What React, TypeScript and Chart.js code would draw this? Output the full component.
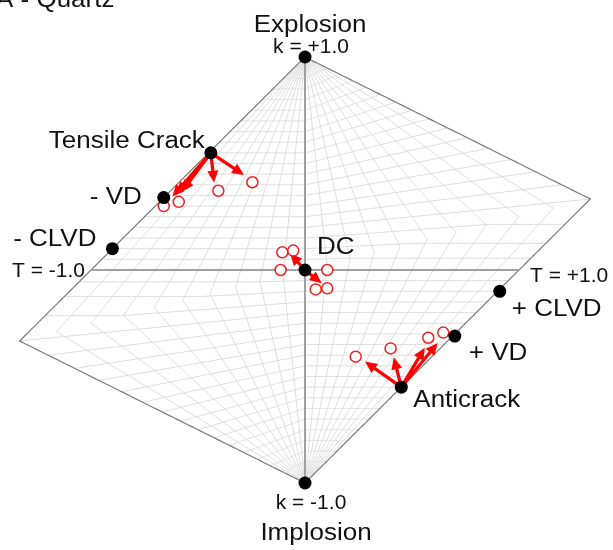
import React, { useEffect, useRef } from 'react';
import { Chart, registerables } from 'chart.js';

Chart.register(...registerables);

// Reference source types (Hudson u-v plot coordinates)
const refLabels = ['Explosion', 'Implosion', 'Tensile Crack', '- VD', '- CLVD', 'DC', '+ CLVD', '+ VD', 'Anticrack'];
const refU = [0, 0, -0.44, -0.66, -0.9, 0, 0.91, 0.7, 0.45];
const refV = [1, -1, 0.55, 0.34, 0.1, 0, -0.1, -0.31, -0.55];

// Observed (inverted) source types, red open circles
const obsU = [-0.66, -0.59, -0.405, -0.246, -0.106, -0.055, -0.114, 0.104, 0.05, 0.104, 0.237, 0.4, 0.576, 0.646];
const obsV = [0.3, 0.32, 0.372, 0.412, 0.083, 0.091, 0.0, 0.0, -0.091, -0.086, -0.407, -0.368, -0.318, -0.294];

// Arrows: from a reference source (index in refLabels) to a tip
const arrowSource = [2, 2, 2, 2, 2, 5, 5, 8, 8, 8, 8];
const arrowTipU = [-0.62, -0.6, -0.575, -0.425, -0.285, -0.07, 0.078, 0.28, 0.415, 0.56, 0.62];
const arrowTipV = [0.345, 0.357, 0.368, 0.41, 0.446, 0.078, -0.062, -0.43, -0.41, -0.365, -0.343];

// Axis end labels
const axisLabels = ['k = +1.0', 'k = -1.0', 'T = -1.0', 'T = +1.0'];
const axisU = [0, 0, -1, 1];
const axisV = [1, -1, 0, 0];

const titleText = 'A - Quartz';

// grid values (T and k)
const gridTStep = 0.1;
const gridKStep = 0.05;

function hudson(T: number, k: number): [number, number] {
  const tau = T * (1 - Math.abs(k));
  if ((tau >= 0 && k <= 0) || (tau <= 0 && k >= 0)) return [tau, k];
  if (tau > 0 && k > 0) {
    if (tau < 4 * k) {
      const d = 1 - tau / 2;
      return [tau / d, k / d];
    }
    const d = 1 - 2 * k;
    return [tau / d, k / d];
  }
  if (tau > 4 * k) {
    const d = 1 + tau / 2;
    return [tau / d, k / d];
  }
  const d = 1 + 2 * k;
  return [tau / d, k / d];
}

const FONT = '"Liberation Sans", Arial, sans-serif';

// label layout: [text, anchorU, anchorV, dx, dy, align, size, scaleX]
const labelLayout: Array<[string, number, number, number, number, CanvasTextAlign, number, number]> = [
  [refLabels[0], refU[0], refV[0], 5, -25, 'center', 23, 1.13],
  [refLabels[1], refU[1], refV[1], 11, 57, 'center', 23, 1.13],
  [refLabels[2], refU[2], refV[2], -6, -4.5, 'right', 23, 1.13],
  [refLabels[3], refU[3], refV[3], -22, 6, 'right', 23, 1.13],
  [refLabels[4], refU[4], refV[4], -16, -3, 'right', 23, 1.13],
  [refLabels[5], refU[5], refV[5], 12, -16, 'left', 23, 1.13],
  [refLabels[6], refU[6], refV[6], 12, 25, 'left', 23, 1.13],
  [refLabels[7], refU[7], refV[7], 14, 24, 'left', 23, 1.13],
  [refLabels[8], refU[8], refV[8], 12, 20, 'left', 23, 1.13],
  [axisLabels[0], axisU[0], axisV[0], 6, -4, 'center', 20, 1.05],
  [axisLabels[1], axisU[1], axisV[1], 6, 26, 'center', 20, 1.05],
  [axisLabels[2], axisU[2], axisV[2], -6, 7, 'right', 20, 1.05],
  [axisLabels[3], axisU[3], axisV[3], 11, 12, 'left', 20, 1.05],
];

const hudsonPlugin = {
  id: 'hudsonGrid',
  beforeDatasetsDraw(chart: any) {
    const { ctx, scales } = chart;
    const xs = scales.x;
    const ys = scales.y;
    const px = (u: number) => xs.getPixelForValue(u);
    const py = (v: number) => ys.getPixelForValue(v);

    const drawPoly = (pts: Array<[number, number]>) => {
      ctx.beginPath();
      pts.forEach(([u, v], i) => {
        if (i === 0) ctx.moveTo(px(u), py(v));
        else ctx.lineTo(px(u), py(v));
      });
      ctx.stroke();
    };

    const kLine = (k: number) => {
      const ts: number[] = [];
      for (let i = 0; i <= 200; i++) ts.push(-1 + (2 * i) / 200);
      if (k > 0) {
        const t = (4 * k) / (1 - k);
        if (t < 1) ts.push(t);
      } else if (k < 0) {
        const t = (4 * k) / (1 + k);
        if (t > -1) ts.push(t);
      }
      ts.sort((a, b) => a - b);
      return ts.map((t) => hudson(t, k));
    };
    const tLine = (T: number) => {
      const ks: number[] = [];
      for (let i = 0; i <= 200; i++) ks.push(-1 + (2 * i) / 200);
      if (T > 0) ks.push(T / (4 + T));
      else if (T < 0) ks.push(T / (4 - T));
      ks.sort((a, b) => a - b);
      return ks.map((k) => hudson(T, k));
    };

    ctx.save();
    ctx.lineJoin = 'miter';
    // light grid
    ctx.strokeStyle = '#dcdcdc';
    ctx.lineWidth = 1;
    const nK = Math.round(1 / gridKStep);
    for (let i = -nK + 1; i <= nK - 1; i++) {
      if (i === 0) continue;
      drawPoly(kLine(i * gridKStep));
    }
    const nT = Math.round(1 / gridTStep);
    for (let i = -nT + 1; i <= nT - 1; i++) {
      if (i === 0) continue;
      drawPoly(tLine(i * gridTStep));
    }
    // outline (T = +-1)
    ctx.strokeStyle = '#7a7a7a';
    ctx.lineWidth = 1.2;
    drawPoly(tLine(-1));
    drawPoly(tLine(1));
    // axes
    ctx.strokeStyle = '#a0a0a0';
    ctx.lineWidth = 2;
    drawPoly(kLine(0));
    drawPoly(tLine(0));

    // arrows
    ctx.strokeStyle = '#ff0000';
    ctx.fillStyle = '#ff0000';
    ctx.lineWidth = 3.2;
    ctx.lineCap = 'butt';
    for (let i = 0; i < arrowSource.length; i++) {
      const s = arrowSource[i];
      const x0 = px(refU[s]);
      const y0 = py(refV[s]);
      const x1 = px(arrowTipU[i]);
      const y1 = py(arrowTipV[i]);
      const ang = Math.atan2(y1 - y0, x1 - x0);
      const headLen = 12;
      const headW = 5.5;
      const bx = x1 - headLen * Math.cos(ang);
      const by = y1 - headLen * Math.sin(ang);
      ctx.beginPath();
      ctx.moveTo(x0, y0);
      ctx.lineTo(bx + 1 * Math.cos(ang), by + 1 * Math.sin(ang));
      ctx.stroke();
      ctx.beginPath();
      ctx.moveTo(x1, y1);
      ctx.lineTo(bx + headW * Math.sin(ang), by - headW * Math.cos(ang));
      ctx.lineTo(bx - headW * Math.sin(ang), by + headW * Math.cos(ang));
      ctx.closePath();
      ctx.fill();
    }
    ctx.restore();
  },
  afterDraw(chart: any) {
    const { ctx, scales } = chart;
    const px = (u: number) => scales.x.getPixelForValue(u);
    const py = (v: number) => scales.y.getPixelForValue(v);
    ctx.save();
    ctx.fillStyle = '#111';
    ctx.textBaseline = 'alphabetic';
    for (const [text, u, v, dx, dy, align, size, sx] of labelLayout) {
      ctx.save();
      ctx.translate(px(u) + dx, py(v) + dy);
      ctx.scale(sx, 1);
      ctx.font = `${size}px ${FONT}`;
      ctx.textAlign = align;
      ctx.fillText(text, 0, 0);
      ctx.restore();
    }
    // partially clipped panel title
    ctx.save();
    ctx.translate(-4, 7);
    ctx.scale(1.13, 1);
    ctx.font = `23px ${FONT}`;
    ctx.textAlign = 'left';
    ctx.fillText(titleText, 0, 0);
    ctx.restore();
    ctx.restore();
  },
};

export default function App() {
  const canvasRef = useRef<HTMLCanvasElement | null>(null);

  useEffect(() => {
    const canvas = canvasRef.current;
    if (!canvas) return;
    const W = 613;
    const H = 550;
    const cx = 305;
    const cy = 270;
    const sx = 214;
    const sy = 213;
    const chart = new Chart(canvas, {
      type: 'scatter',
      data: {
        datasets: [
          {
            label: 'Reference',
            data: refU.map((u, i) => ({ x: u, y: refV[i] })),
            pointRadius: 6.5,
            pointBackgroundColor: '#000',
            pointBorderWidth: 0,
            pointBorderColor: '#000',
          },
          {
            label: 'Observed',
            data: obsU.map((u, i) => ({ x: u, y: obsV[i] })),
            pointRadius: 5.5,
            pointBackgroundColor: '#ffffff',
            pointBorderColor: '#f02020',
            pointBorderWidth: 1.5,
          },
        ],
      },
      options: {
        responsive: false,
        animation: false,
        devicePixelRatio: 1,
        layout: { padding: 0, autoPadding: false },
        plugins: { legend: { display: false }, tooltip: { enabled: false }, title: { display: false } },
        scales: {
          x: { type: 'linear', display: false, min: -cx / sx, max: (W - cx) / sx },
          y: { type: 'linear', display: false, min: -(H - cy) / sy, max: cy / sy },
        },
      },
      plugins: [hudsonPlugin],
    });
    return () => chart.destroy();
  }, []);

  return (
    <div style={{ position: 'fixed', left: 0, top: 0, width: 613, height: 550, background: '#fff' }}>
      <canvas ref={canvasRef} width={613} height={550} style={{ display: 'block' }} />
    </div>
  );
}
